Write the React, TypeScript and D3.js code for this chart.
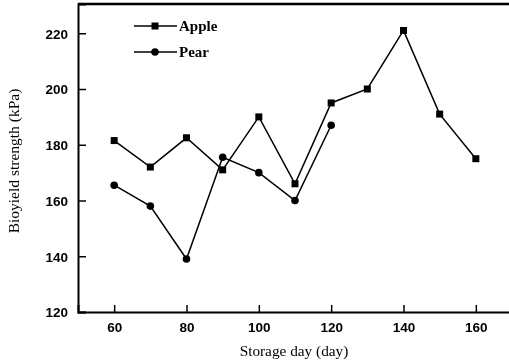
import React, { useEffect, useRef } from 'react';
import * as d3 from 'd3';

const days = [60, 70, 80, 90, 100, 110, 120, 130, 140, 150, 160];
const apple = [181.5, 172, 182.5, 171, 190, 166, 195, 200, 221, 191, 175];
const pearDays = [60, 70, 80, 90, 100, 110, 120];
const pear = [165.5, 158, 139, 175.5, 170, 160, 187];
const xTicks = [60, 80, 100, 120, 140, 160];
const yTicks = [120, 140, 160, 180, 200, 220];

const width = 509;
const height = 362;
const margin = { top: 4, right: -3, bottom: 50, left: 78 };

const App = () => {
  const svgRef = useRef<SVGSVGElement>(null);

  useEffect(() => {
    const root = d3.select(svgRef.current);
    root.selectAll('*').remove();
    const innerW = width - margin.left - margin.right;
    const innerH = height - margin.top - margin.bottom;

    const svg = root.append('g')
      .attr('transform', `translate(${margin.left},${margin.top})`);

    const x = d3.scaleLinear().domain([50, 170]).range([0, innerW]);
    const y = d3.scaleLinear().domain([120, 230.5]).range([innerH, 0]);

    // axes, ticks pointing inward
    const xAxis = svg.append('g')
      .attr('transform', `translate(0,${innerH})`)
      .call(d3.axisBottom(x).tickValues(xTicks).tickSize(-7).tickPadding(10));
    const yAxis = svg.append('g')
      .call(d3.axisLeft(y).tickValues(yTicks).tickSize(-8).tickPadding(10));

    [xAxis, yAxis].forEach(a => {
      a.select('.domain').attr('stroke', '#000').attr('stroke-width', 2);
      a.selectAll('.tick line').attr('stroke', '#000').attr('stroke-width', 1.5);
      a.selectAll('.tick text')
        .attr('fill', '#000')
        .style('font-family', 'Arial, "Liberation Sans", sans-serif')
        .style('font-size', '13.5px')
        .style('font-weight', '600');
    });
    yAxis.selectAll('.tick text').attr('dy', '0.36em');

    // top frame line
    svg.append('line')
      .attr('x1', 0).attr('x2', innerW + 10)
      .attr('y1', 0).attr('y2', 0)
      .attr('stroke', '#000').attr('stroke-width', 2.5);

    const line = d3.line<[number, number]>()
      .x(d => x(d[0]))
      .y(d => y(d[1]));

    const appleData: [number, number][] = days.map((d, i) => [d, apple[i]]);
    const pearData: [number, number][] = pearDays.map((d, i) => [d, pear[i]]);

    svg.append('path')
      .datum(appleData)
      .attr('d', line)
      .attr('fill', 'none')
      .attr('stroke', '#000')
      .attr('stroke-width', 1.5);
    svg.append('path')
      .datum(pearData)
      .attr('d', line)
      .attr('fill', 'none')
      .attr('stroke', '#000')
      .attr('stroke-width', 1.5);

    svg.selectAll('.sq')
      .data(appleData)
      .enter()
      .append('rect')
      .attr('x', d => x(d[0]) - 3.5)
      .attr('y', d => y(d[1]) - 3.5)
      .attr('width', 7)
      .attr('height', 7)
      .attr('fill', '#000');

    svg.selectAll('.dot')
      .data(pearData)
      .enter()
      .append('circle')
      .attr('cx', d => x(d[0]))
      .attr('cy', d => y(d[1]))
      .attr('r', 3.8)
      .attr('fill', '#000');

    // legend
    const legend = root.append('g');
    const items = [
      { name: 'Apple', shape: 'square', cy: 26 },
      { name: 'Pear', shape: 'circle', cy: 52 }
    ];
    items.forEach(it => {
      legend.append('line')
        .attr('x1', 134).attr('x2', 177)
        .attr('y1', it.cy).attr('y2', it.cy)
        .attr('stroke', '#000').attr('stroke-width', 1.5);
      if (it.shape === 'square') {
        legend.append('rect')
          .attr('x', 151.5).attr('y', it.cy - 3.5)
          .attr('width', 7).attr('height', 7)
          .attr('fill', '#000');
      } else {
        legend.append('circle')
          .attr('cx', 155).attr('cy', it.cy).attr('r', 3.8)
          .attr('fill', '#000');
      }
      legend.append('text')
        .attr('x', 179).attr('y', it.cy + 5)
        .style('font-family', '"Liberation Serif", "Times New Roman", serif')
        .style('font-size', '15px')
        .style('font-weight', '600')
        .text(it.name);
    });

    // axis titles
    root.append('text')
      .attr('x', 294).attr('y', 356)
      .attr('text-anchor', 'middle')
      .style('font-family', '"Liberation Serif", "Times New Roman", serif')
      .style('font-size', '15.3px')
      .text('Storage day (day)');

    root.append('text')
      .attr('transform', 'translate(19,161) rotate(-90)')
      .attr('text-anchor', 'middle')
      .style('font-family', '"Liberation Serif", "Times New Roman", serif')
      .style('font-size', '15.5px')
      .text('Bioyield strength (kPa)');
  }, []);

  return (
    <div style={{ position: 'fixed', left: 0, top: 0 }}>
      <svg ref={svgRef} width={width} height={height} style={{ display: 'block' }}></svg>
    </div>
  );
};

export default App;
